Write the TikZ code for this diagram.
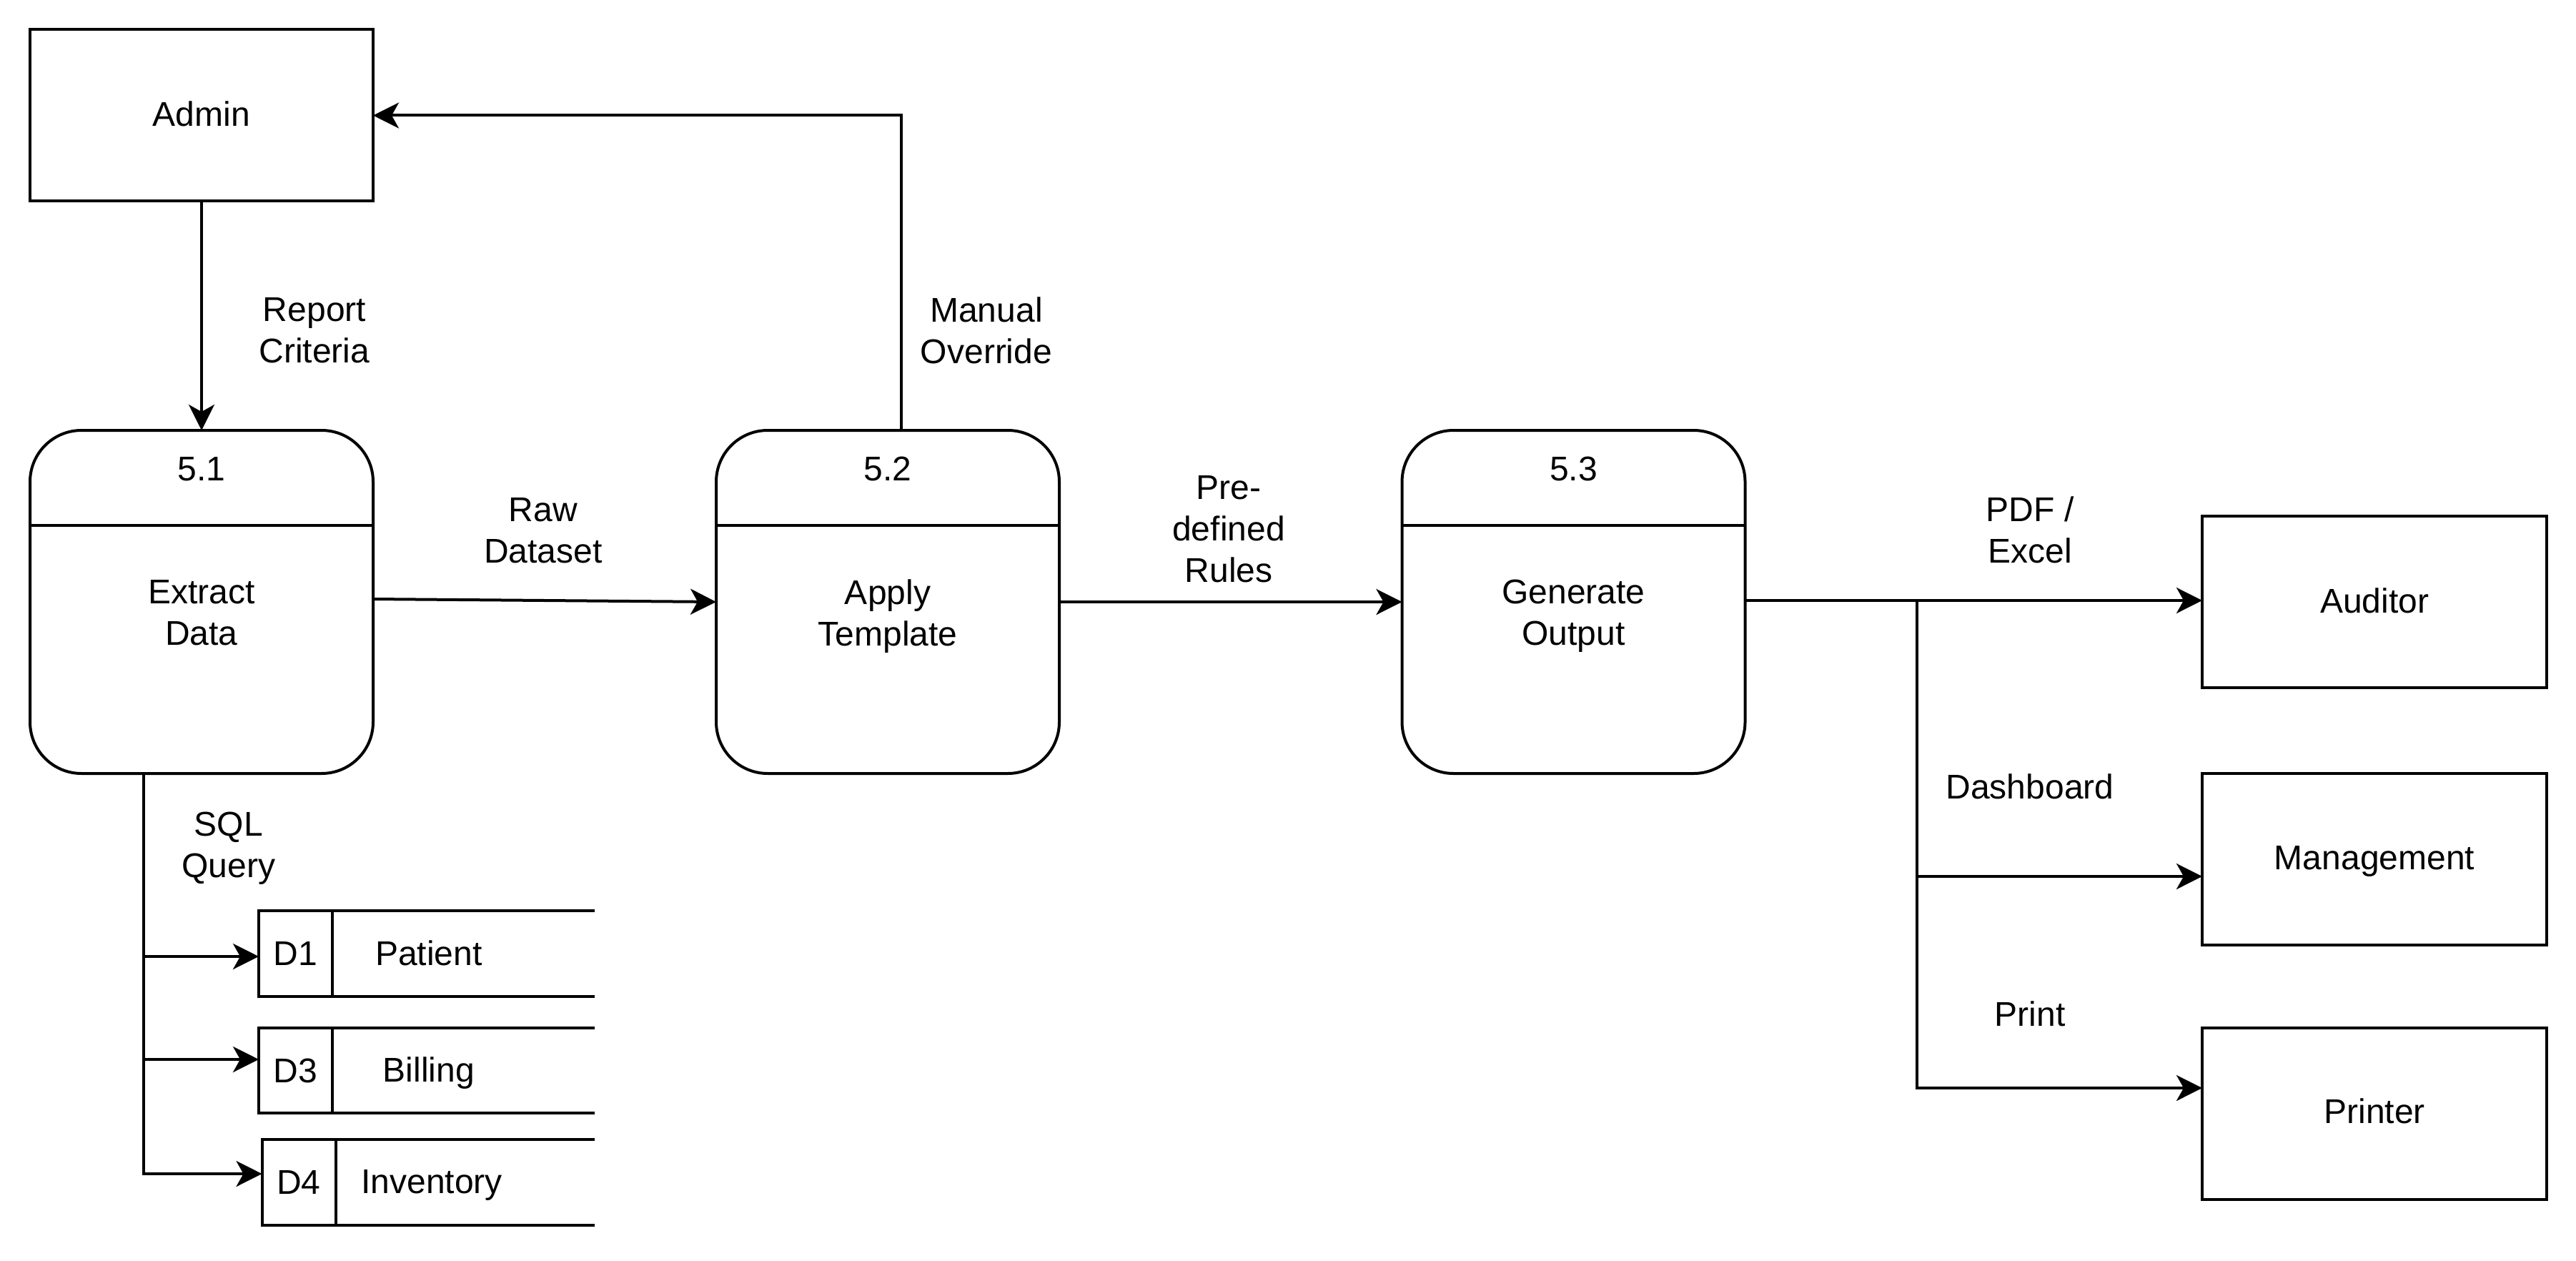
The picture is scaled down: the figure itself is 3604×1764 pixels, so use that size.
\documentclass[tikz,border=0pt]{standalone}
\usepackage{fontspec}
\setmainfont{Liberation Sans}
\usetikzlibrary{arrows.meta}
\begin{document}
\begin{tikzpicture}[x=0.25pt,y=-0.25pt,
  every node/.style={font=\fontsize{12pt}{14.5pt}\selectfont, align=center, inner sep=0pt, outer sep=0pt},
  line/.style={line width=1pt, draw=black},
  flow/.style={line width=1pt, draw=black, -{Stealth[length=9pt,width=9pt,inset=2.5pt]}},
  entity/.style={draw, line width=1pt, rectangle, minimum width=120.5pt, minimum height=60pt},
  procbox/.style={draw, line width=1pt, rectangle, rounded corners=18pt, minimum width=120pt, minimum height=120pt},
  dcell/.style={draw, line width=1pt, rectangle, minimum width=25.75pt, minimum height=30pt},
  txt/.style={}
]
\fill[white] (0,0) rectangle (3604,1764);
\useasboundingbox (0,0) rectangle (3604,1764);

% external entities
\node[entity, minimum width=120pt] (admin) at (282,161.5) {};
\node[txt] (admint) at (282,159) {Admin};
\node[entity] (auditor) at (3322,842) {};
\node[txt] (auditort) at (3322,840) {Auditor};
\node[entity] (management) at (3322,1202) {};
\node[txt] (managementt) at (3322,1205) {Management};
\node[entity] (printer) at (3322,1558) {};
\node[txt] (printert) at (3322,1554) {Printer};

% processes
\node[procbox] (p51) at (282,842) {};
\draw[line] ([yshift=-33.25pt]p51.north west) -- ([yshift=-33.25pt]p51.north east);
\node[txt] (p51n) at (282,656) {5.1};
\node[txt] (p51t) at (282,857) {Extract\\Data};

\node[procbox] (p52) at (1242,842) {};
\draw[line] ([yshift=-33.25pt]p52.north west) -- ([yshift=-33.25pt]p52.north east);
\node[txt] (p52n) at (1242,656) {5.2};
\node[txt] (p52t) at (1242,862) {Apply\\Template};

\node[procbox] (p53) at (2201.5,842) {};
\draw[line] ([yshift=-33.25pt]p53.north west) -- ([yshift=-33.25pt]p53.north east);
\node[txt] (p53n) at (2201.5,656) {5.3};
\node[txt] (p53t) at (2201.5,862) {Generate\\Output};

% data stores
\node[dcell] (d1) at (413.5,1334) {D1};
\draw[line] (d1.north east) -- ++(367,0);
\draw[line] (d1.south east) -- ++(367,0);
\node[txt] (d1t) at (600,1333) {Patient};

\node[dcell, minimum height=29.75pt] (d3) at (413.5,1497.5) {D3};
\draw[line] (d3.north east) -- ++(367,0);
\draw[line] (d3.south east) -- ++(367,0);
\node[txt] (d3t) at (600,1501) {Billing};

\node[dcell] (d4) at (418,1654) {D4};
\draw[line] (d4.north east) -- ++(362,0);
\draw[line] (d4.south east) -- ++(362,0);
\node[txt] (d4t) at (604,1658) {Inventory};

% flows
\draw[flow] (admin) -- (p51);
\node[txt] (rc) at (440,462) {Report\\Criteria};

\draw[flow] ([xshift=4.75pt]p52.north) |- (admin.east);
\node[txt] (mo) at (1380,462) {Manual\\Override};

\draw[flow] ([yshift=1pt]p51.east) -- (p52.west);
\node[txt] (rd) at (760,742) {Raw\\Dataset};

\draw[flow] (p52) -- (p53);
\node[txt] (pr) at (1719,740) {Pre-\\defined\\Rules};

\coordinate (br) at (2682,840);
\coordinate (bm) at (2682,1226);
\coordinate (bp) at (2682,1522);
\draw[flow] (p53.east |- br) -- (br -| auditor.west);
\draw[flow] (br) |- (bm -| management.west);
\draw[flow] (br) |- (bp -| printer.west);
\node[txt] (pdf) at (2840,741) {PDF /\\Excel};
\node[txt] (dash) at (2840,1100) {Dashboard};
\node[txt] (prt) at (2840,1418) {Print};

\coordinate (s1) at (201,1338);
\coordinate (s3) at (201,1482);
\coordinate (s4) at (201,1642);
\draw[flow] (p51.south -| s4) |- (s4 -| d4.west);
\draw[flow] (s1) -- (s1 -| d1.west);
\draw[flow] (s3) -- (s3 -| d3.west);
\node[txt] (sql) at (320,1187) {SQL\\Query};
\end{tikzpicture}
\end{document}
